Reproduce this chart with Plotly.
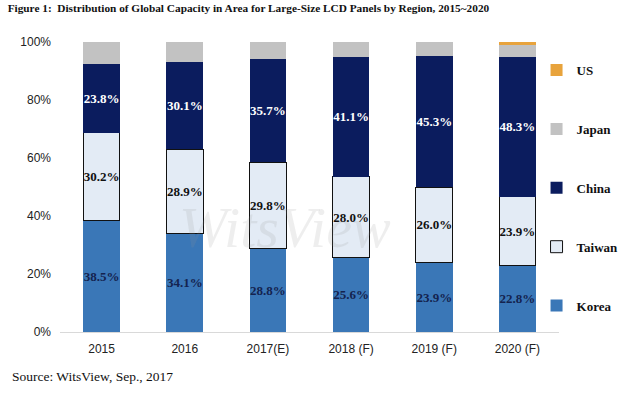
import plotly.graph_objects as go

years = ["2015", "2016", "2017(E)", "2018 (F)", "2019 (F)", "2020 (F)"]
korea = [38.5, 34.1, 28.8, 25.6, 23.9, 22.8]
taiwan = [30.2, 28.9, 29.8, 28.0, 26.0, 23.9]
china = [23.8, 30.1, 35.7, 41.1, 45.3, 48.3]
japan = [7.5, 6.9, 5.7, 5.3, 4.8, 4.0]
us = [0.0, 0.0, 0.0, 0.0, 0.0, 1.0]
y_ticks = [0, 20, 40, 60, 80, 100]
y_tick_labels = ["0%", "20%", "40%", "60%", "80%", "100%"]

serif = "Liberation Serif"
sans = "Liberation Sans"

fig = go.Figure()

def add(name, vals, color, rank, textcolor=None, line=None, show_text=True):
    fig.add_trace(go.Bar(
        name=name, x=years, y=vals,
        marker=dict(color=color, line=dict(color=line or color, width=1 if line else 0)),
        text=[f"{v:.1f}%" for v in vals] if show_text else None,
        textposition="inside" if show_text else "none",
        insidetextanchor="middle",
        textangle=0,
        constraintext="none",
        textfont=dict(family=serif, size=13, color=textcolor or "white", weight="bold"),
        legendgroup=name,
        legendrank=rank,
        hoverinfo="skip",
    ))

add("Korea", korea, "#3a77b7", 5, textcolor="#14234f")
add("Taiwan", taiwan, "#e3ebf5", 4, textcolor="#111111", line="#111111")
add("China", china, "#0b1c5e", 3, textcolor="white")
add("Japan", japan, "#c2c2c2", 2, show_text=False)
add("US", us, "#e8a33c", 1, show_text=False)

fig.add_annotation(text="WitsView", x=0.45, y=0.36, xref="paper", yref="paper",
                   showarrow=False, font=dict(family=serif, size=58, color="rgba(150,150,150,0.16)", style="italic"))

fig.update_layout(
    width=636, height=393,
    barmode="stack", bargap=0.56,
    paper_bgcolor="white", plot_bgcolor="white",
    margin=dict(l=60, r=72, t=42, b=61),
    title=dict(text="<b>Figure 1:  Distribution of Global Capacity in Area for Large-Size LCD Panels by Region, 2015~2020</b>",
               x=0.012, xanchor="left", y=0.99, yanchor="top",
               font=dict(family=serif, size=11.3, color="#111111")),
    showlegend=True,
    legend=dict(traceorder="grouped", x=0.955, xanchor="left", y=0.955, yanchor="top",
                font=dict(family=serif, size=13, color="#111111", weight="bold"),
                tracegroupgap=39, itemwidth=30, bgcolor="rgba(0,0,0,0)"),
    xaxis=dict(showline=True, linecolor="#d9d9d9", linewidth=1, ticks="", ticklabelstandoff=6,
               tickfont=dict(family=sans, size=12, color="#222222")),
    yaxis=dict(range=[0, 100], tickvals=y_ticks, ticktext=y_tick_labels, showgrid=False,
               zeroline=False, showline=False, ticks="", ticklabelstandoff=8,
               tickfont=dict(family=sans, size=12, color="#222222")),
)

fig.add_annotation(text="Source: WitsView, Sep., 2017", x=-0.1, y=-0.155, xref="paper", yref="paper",
                   xanchor="left", yanchor="middle", showarrow=False,
                   font=dict(family=serif, size=13.5, color="#111111"))

fig.write_html("out.html", config={"displayModeBar": False},
               post_script="document.body.style.margin='0';")
